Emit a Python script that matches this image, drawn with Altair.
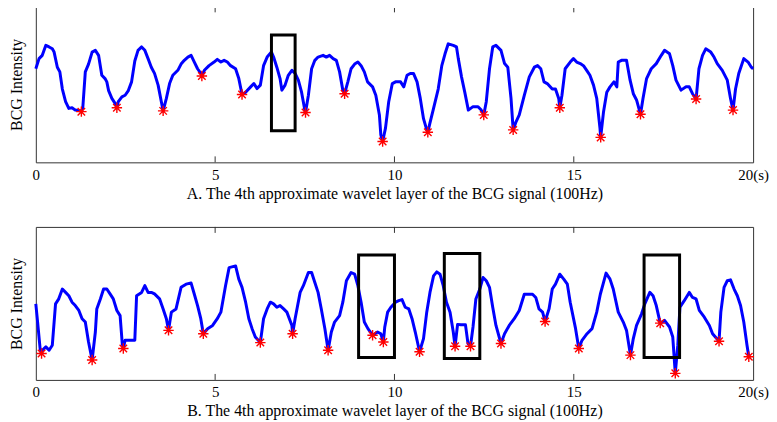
import altair as alt
import pandas as pd

# ---------------- Panel A data ----------------
time_a = [0.00, 0.09, 0.18, 0.28, 0.37, 0.46, 0.51, 0.60, 0.67, 0.74, 0.83, 0.92, 1.01, 1.10, 1.24, 1.27, 1.31,
          1.38, 1.47, 1.57, 1.66, 1.75, 1.84, 1.93, 1.98, 2.03, 2.12, 2.21, 2.26, 2.30, 2.40, 2.49, 2.58, 2.67,
          2.76, 2.85, 2.95, 3.04, 3.13, 3.22, 3.31, 3.41, 3.50, 3.55, 3.64, 3.73, 3.82, 3.96, 4.05, 4.14, 4.24,
          4.33, 4.42, 4.51, 4.60, 4.63, 4.70, 4.83, 4.97, 5.06, 5.16, 5.25, 5.34, 5.43, 5.57, 5.66, 5.75, 5.85,
          5.99, 6.08, 6.17, 6.26, 6.35, 6.45, 6.57, 6.63, 6.72, 6.81, 6.86, 6.95, 7.04, 7.14, 7.23, 7.32, 7.41,
          7.50, 7.52, 7.60, 7.69, 7.78, 7.87, 8.01, 8.10, 8.19, 8.29, 8.38, 8.47, 8.56, 8.61, 8.70, 8.79, 8.89,
          8.98, 9.07, 9.16, 9.25, 9.39, 9.48, 9.58, 9.62, 9.67, 9.75, 9.84, 9.94, 10.03, 10.17, 10.26, 10.35,
          10.44, 10.53, 10.63, 10.72, 10.81, 10.90, 10.93, 10.99, 11.09, 11.22, 11.32, 11.41, 11.50, 11.64,
          11.73, 11.78, 11.87, 11.96, 12.06, 12.19, 12.33, 12.42, 12.49, 12.56, 12.65, 12.74, 12.83, 12.97,
          13.07, 13.16, 13.25, 13.31, 13.39, 13.48, 13.62, 13.76, 13.90, 13.99, 14.08, 14.17, 14.26, 14.40,
          14.49, 14.58, 14.61, 14.67, 14.76, 14.90, 14.99, 15.08, 15.18, 15.27, 15.36, 15.45, 15.55, 15.64,
          15.73, 15.75, 15.83, 15.92, 16.01, 16.12, 16.20, 16.24, 16.33, 16.47, 16.57, 16.66, 16.75, 16.84,
          16.86, 16.93, 17.03, 17.16, 17.30, 17.44, 17.53, 17.67, 17.76, 17.85, 17.99, 18.13, 18.22, 18.31,
          18.41, 18.49, 18.59, 18.68, 18.82, 18.91, 19.00, 19.14, 19.28, 19.37, 19.44, 19.51, 19.60, 19.74,
          19.86, 19.95, 20.00]
signal_a = [60, 66.5, 68.6, 75, 74, 72.8, 70.7, 61, 58, 47, 39, 34.6, 35, 33.5, 33, 32.5, 35,
            58, 63, 70.7, 71.8, 68.6, 55.8, 53.7, 51.6, 46, 41, 37.8, 35, 38.9, 42, 43, 46, 51.6,
            65, 71.8, 74, 71.8, 66.5, 61, 57, 49.5, 38.9, 33, 41, 50.5, 55.8, 59, 63, 65.4, 67.5,
            68.6, 64.3, 60, 57, 55.4, 59, 62, 64.3, 66, 64.3, 65.4, 64.3, 62, 60, 53.7, 43.5, 45,
            48.4, 50.5, 47.3, 49.5, 62, 67.5, 70.7, 67.5, 61, 53.7, 46.3, 49.5, 55.8, 59, 57, 52.7, 45,
            33.5, 32, 43, 60, 65.4, 67.5, 68.6, 67.5, 68.6, 66.5, 65.4, 58, 46.3, 44, 51.6, 60, 63,
            64.3, 62, 58, 51.6, 48.4, 43, 30.4, 17.6, 13.4, 21.9, 38.9, 50.5, 51.6, 51.6, 48.4, 55.8,
            57, 57, 51.6, 41, 28, 20.8, 19.3, 25.3, 34.6, 47, 62, 69.6, 76, 75,
            74, 66.5, 54.8, 45, 33.5, 35.7, 35.7, 33.5, 30.4, 38.9, 60, 74, 75, 71.8,
            63.3, 61, 41, 20.8, 26, 30.4, 43, 54.8, 61, 62, 60, 51.6, 50.5, 47,
            47, 41, 35, 43, 60, 64.3, 66.5, 64.3, 63.3, 62, 59, 55.8, 49.5, 41,
            21.9, 16, 32.5, 45, 48.4, 51.6, 48.4, 64.3, 65.4, 65.4, 52.7, 44, 40, 32.5,
            30.8, 41, 53.7, 60, 63.3, 68.6, 71.8, 69.6, 62, 52.7, 46.3, 48.4, 48.4, 44,
            40.6, 60, 68.6, 72.8, 70.7, 67.5, 63.3, 59, 52.7, 41, 33.5, 47, 57, 66.5,
            64.3, 61, 60]
peak_t_a = [1.27, 2.26, 3.55, 4.63, 5.75, 7.52, 8.61, 9.67, 10.93, 12.49, 13.31, 14.61, 15.75, 16.86, 18.41, 19.44]
peak_v_a = [32.5, 35, 33, 55.4, 43.5, 32, 44, 13.4, 19.3, 30.4, 20.8, 35, 16, 30.8, 40.6, 33.5]
box_t0_a = [6.57]
box_t1_a = [7.23]
box_v0_a = [20.2]
box_v1_a = [81.7]

# ---------------- Panel B data ----------------
time_b = [0.00, 0.05, 0.12, 0.16, 0.18, 0.28, 0.37, 0.46, 0.55, 0.64, 0.74, 0.83, 0.92, 1.01, 1.10, 1.20, 1.29,
          1.38, 1.47, 1.57, 1.66, 1.70, 1.80, 1.89, 1.98, 2.07, 2.16, 2.26, 2.35, 2.41, 2.44, 2.49, 2.62, 2.76,
          2.81, 2.95, 3.04, 3.13, 3.22, 3.31, 3.45, 3.55, 3.64, 3.70, 3.78, 3.91, 4.05, 4.19, 4.33, 4.42, 4.51,
          4.60, 4.67, 4.79, 4.93, 5.06, 5.16, 5.29, 5.39, 5.57, 5.66, 5.75, 5.85, 5.94, 6.03, 6.12, 6.26, 6.35,
          6.45, 6.54, 6.63, 6.72, 6.81, 6.91, 7.00, 7.14, 7.16, 7.23, 7.37, 7.46, 7.60, 7.69, 7.78, 7.87, 7.96,
          8.06, 8.15, 8.24, 8.33, 8.47, 8.56, 8.66, 8.79, 8.89, 8.98, 9.07, 9.16, 9.26, 9.39, 9.53, 9.62, 9.69,
          9.73, 9.81, 9.90, 10.03, 10.12, 10.21, 10.30, 10.40, 10.49, 10.58, 10.70, 10.81, 10.90, 10.99, 11.09,
          11.18, 11.27, 11.36, 11.45, 11.55, 11.64, 11.69, 11.76, 11.85, 11.98, 12.05, 12.12, 12.19, 12.27,
          12.38, 12.47, 12.56, 12.65, 12.74, 12.83, 12.97, 13.07, 13.20, 13.34, 13.48, 13.62, 13.76, 13.85,
          13.94, 14.03, 14.13, 14.20, 14.31, 14.40, 14.49, 14.61, 14.72, 14.82, 14.90, 15.05, 15.14, 15.23,
          15.37, 15.51, 15.64, 15.74, 15.83, 15.90, 16.01, 16.10, 16.24, 16.38, 16.47, 16.58, 16.66, 16.75,
          16.89, 16.98, 17.12, 17.21, 17.30, 17.41, 17.53, 17.67, 17.76, 17.83, 17.90, 17.96, 18.08, 18.22,
          18.31, 18.41, 18.50, 18.64, 18.78, 18.87, 19.05, 19.10, 19.19, 19.28, 19.37, 19.47, 19.56, 19.65,
          19.74, 19.83, 19.88]
signal_b = [49.7, 37.8, 20.5, 17.3, 19.4, 21.6, 19.4, 22.7, 49.7, 53, 59.4, 57.2, 55, 50.8, 48.6, 45.4, 40,
            37.8, 24.8, 13, 31.3, 46.4, 52.9, 59.4, 59.4, 56.2, 53, 45.4, 42, 23.8, 20.5, 25.9, 25.9, 25.9,
            55, 57.2, 61.6, 57.2, 57.2, 56.2, 53, 46.4, 40, 32.4, 44.3, 46.4, 60.5, 62.6, 63.3, 56, 48.6,
            40, 30.2, 33.5, 35.6, 40, 44.3, 61.6, 73.4, 74.5, 65.9, 60.5, 50.8, 40, 33.5, 28, 24.4, 40,
            46.4, 50.8, 49.7, 47.5, 48.6, 46.4, 44.3, 35.6, 30.2, 40, 57.2, 61.6, 70.2, 70.2, 63.7, 57.2, 46.4,
            33.5, 19.4, 31.3, 37.8, 42, 50.8, 64.8, 70.2, 69.1, 61.6, 50.8, 37.8, 33.5, 29.2, 31.3, 30.2, 24.8,
            34.6, 44.3, 47.5, 50.8, 51.8, 52.5, 47.5, 46.4, 40, 31.3, 18.4, 27, 44.3, 57.2, 68,
            70.6, 69.1, 61.6, 50.8, 44.3, 31.3, 22, 36.3, 36, 36, 23.8, 22, 34.6, 52.9,
            59.4, 67, 64.8, 60.5, 47.5, 35.6, 23.8, 30.2, 35.6, 40, 45.4, 56, 56, 56,
            53.9, 46.4, 44.3, 38.2, 46.4, 59.4, 62.6, 69.1, 65.9, 62.6, 50.8, 33.5, 20.5, 25.9,
            30.2, 33.5, 44.3, 56, 63.7, 69.8, 65.9, 59.4, 44.3, 37.8, 32.4, 16.2, 27, 35.6,
            43.2, 49.7, 57.2, 55, 48.6, 37.1, 38.9, 34.6, 28, 4.3, 22.7, 47.5, 51.8, 57.2,
            53.9, 52.9, 45.4, 41, 35.6, 30.2, 25.3, 44.3, 60.5, 64.8, 65.4, 59.4, 55, 48.6,
            37.8, 22.7, 15.1]
peak_t_b = [0.16, 1.57, 2.44, 3.70, 4.67, 6.26, 7.16, 8.15, 9.39, 9.69, 10.70, 11.69, 12.12, 12.97, 14.20,
            15.14, 16.58, 17.41, 17.83, 19.05, 19.88]
peak_v_b = [17.3, 13, 20.5, 32.4, 30.2, 24.4, 30.2, 19.4, 29.2, 24.8, 18.4, 22, 22, 23.8, 38.2,
            20.5, 16.2, 37.1, 4.3, 25.3, 15.1]
box_t0_b = [9.0, 11.39, 16.96]
box_t1_b = [10.0, 12.38, 17.95]
box_v0_b = [14.7, 14.0, 14.7]
box_v1_b = [81.6, 82.7, 81.6]

tick_values = [0, 5, 10, 15, 20]
inner_ticks = [5, 10, 15]
title_a = "A. The 4th approximate wavelet layer of the BCG signal (100Hz)"
title_b = "B. The 4th approximate wavelet layer of the BCG signal (100Hz)"

FONT = "Liberation Serif"
STAR = "M-1,0L1,0M0,-1L0,1M-0.72,-0.72L0.72,0.72M-0.72,0.72L0.72,-0.72"


def panel(tt, vv, pt, pv, b0, b1, bv0, bv1, title, height, ydom):
    xscale = alt.Scale(domain=[0, 20], nice=False, zero=False)
    yscale = alt.Scale(domain=ydom, nice=False, zero=False)
    xaxis = alt.Axis(values=tick_values, labelExpr="datum.value == 20 ? '20(s)' : datum.label",
                     ticks=False, tickSize=0, domain=False, grid=False, labelFont=FONT, labelFontSize=15,
                     labelColor="black", labelPadding=5, labelOverlap=False, labelFlush=False, title=title,
                     titleFont=FONT, titleFontSize=16, titleFontWeight="normal", titleColor="black",
                     titlePadding=3)
    yaxis = alt.Axis(labels=False, ticks=False, tickSize=0, domain=False, grid=False,
                     title="BCG Intensity", titleFont=FONT, titleFontSize=16, titleFontWeight="normal",
                     titleColor="black", titlePadding=11)
    sig = pd.DataFrame({"t": tt, "v": vv})
    pk = pd.DataFrame({"t": pt, "v": pv})
    bx = pd.DataFrame({"t": b0, "t1": b1, "v": bv0, "v1": bv1})
    tk = pd.DataFrame({"t": inner_ticks})

    X = alt.X("t:Q", scale=xscale, axis=xaxis)
    Y = alt.Y("v:Q", scale=yscale, axis=yaxis)

    line = alt.Chart(sig).mark_line(color="#0000ff", strokeWidth=3, strokeJoin="round").encode(x=X, y=Y)
    stars = alt.Chart(pk).mark_point(shape=STAR, size=110, filled=False, color="#ff0000",
                                     strokeWidth=1.4, opacity=1).encode(x=X, y=Y)
    boxes = alt.Chart(bx).mark_rect(fillOpacity=0, stroke="black", strokeWidth=3).encode(
        x=X, x2="t1:Q", y=Y, y2="v1:Q")
    top_ticks = alt.Chart(tk).mark_rule(color="#333", strokeWidth=1).encode(
        x=X, y=alt.value(0), y2=alt.value(6))
    bot_ticks = alt.Chart(tk).mark_rule(color="#333", strokeWidth=1).encode(
        x=X, y=alt.value(height), y2=alt.value(height - 6))
    return alt.layer(line, boxes, stars, top_ticks, bot_ticks).properties(width=722, height=height)


pa = panel(time_a, signal_a, peak_t_a, peak_v_a, box_t0_a, box_t1_a, box_v0_a, box_v1_a,
           title_a, 157, [0, 100])
pb = panel(time_b, signal_b, peak_t_b, peak_v_b, box_t0_b, box_t1_b, box_v0_b, box_v1_b,
           title_b, 154, [0, 100])

chart = alt.vconcat(pa, pb, spacing=24).properties(
    padding={"left": 0, "top": -4, "right": 0, "bottom": 0}, background="white"
).configure_view(stroke="#333", strokeWidth=1)

chart.save("out.html", embed_options={"renderer": "svg", "actions": False})
